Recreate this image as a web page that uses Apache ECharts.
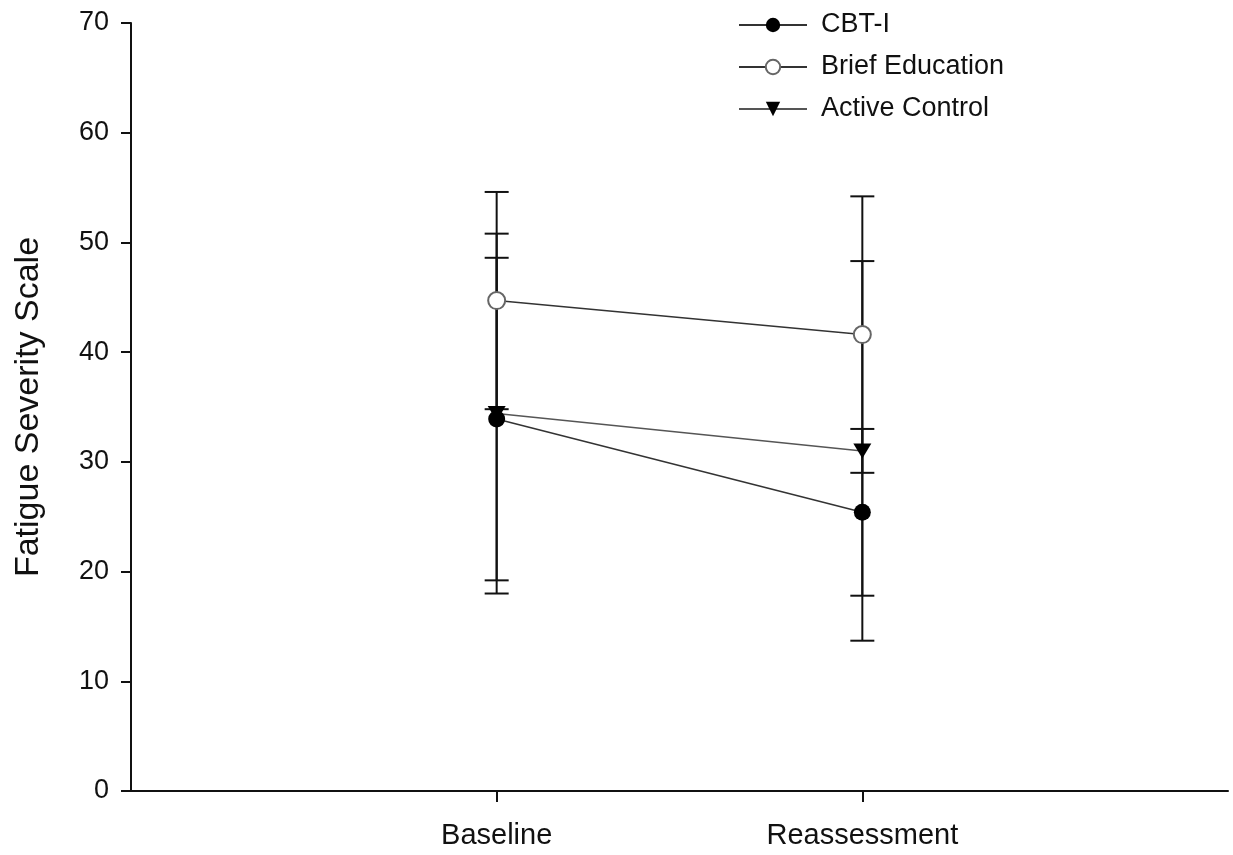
<!DOCTYPE html>
<html>
<head>
<meta charset="utf-8">
<script src="https://cdn.jsdelivr.net/npm/echarts@6/dist/echarts.min.js"></script>
<style>
html,body{margin:0;padding:0;background:#fff;}
#chart{width:1233px;height:855px;}
</style>
</head>
<body>
<div id="chart"></div>
<script>
const categories = ['Baseline', 'Reassessment'];
const seriesNames = ['CBT-I', 'Brief Education', 'Active Control'];
const cbtMean = [33.9, 25.4];
const cbtSD = [14.7, 7.6];
const eduMean = [44.7, 41.6];
const eduSD = [9.9, 12.6];
const acMean = [34.4, 31.0];
const acSD = [16.4, 17.3];
const yTicks = [0, 10, 20, 30, 40, 50, 60, 70];

const FONT = '"Liberation Sans", Arial, sans-serif';
const axisData = [''].concat(categories).concat([' ']);

function pts(mean) { return mean.map((v, i) => [i + 1, v]); }
function bars(mean, sd) { return mean.map((v, i) => [i + 1, v - sd[i], v + sd[i]]); }

function errSeries(mean, sd) {
  return {
    type: 'custom',
    z: 4,
    silent: true,
    encode: { x: 0, y: [1, 2] },
    data: bars(mean, sd),
    renderItem: function (params, api) {
      const x = api.value(0);
      const lo = api.coord([x, api.value(1)]);
      const hi = api.coord([x, api.value(2)]);
      const w = 12;
      const st = { stroke: '#111', lineWidth: 2 };
      return {
        type: 'group',
        children: [
          { type: 'line', shape: { x1: lo[0], y1: lo[1], x2: hi[0], y2: hi[1] }, style: st },
          { type: 'line', shape: { x1: lo[0] - w, y1: lo[1], x2: lo[0] + w, y2: lo[1] }, style: st },
          { type: 'line', shape: { x1: hi[0] - w, y1: hi[1], x2: hi[0] + w, y2: hi[1] }, style: st }
        ]
      };
    }
  };
}

const chart = echarts.init(document.getElementById('chart'), null, { renderer: 'canvas' });
chart.setOption({
  animation: false,
  backgroundColor: '#fff',
  textStyle: { fontFamily: FONT },
  grid: { left: 131, right: 5, top: 23, bottom: 64, containLabel: false, outerBoundsMode: 'none' },
  legend: {
    orient: 'vertical',
    left: 733,
    top: 5,
    itemWidth: 68,
    itemHeight: 18,
    itemGap: 12,
    data: seriesNames,
    textStyle: { fontFamily: FONT, fontSize: 27, color: '#111', lineHeight: 30, padding: [0, 0, 0, 9] }
  },
  xAxis: {
    type: 'category',
    boundaryGap: false,
    data: axisData,
    axisLine: { lineStyle: { color: '#111', width: 2 } },
    axisTick: {
      show: true,
      length: 11,
      interval: function (idx) { return idx === 1 || idx === 2; },
      lineStyle: { color: '#111', width: 2 }
    },
    axisLabel: {
      interval: 0,
      margin: 30,
      fontSize: 29,
      fontFamily: FONT,
      color: '#111'
    },
    splitLine: { show: false }
  },
  yAxis: {
    type: 'value',
    min: yTicks[0],
    max: yTicks[yTicks.length - 1],
    interval: 10,
    name: 'Fatigue Severity Scale',
    nameLocation: 'middle',
    nameGap: 85,
    nameTextStyle: { fontSize: 34, fontFamily: FONT, color: '#111' },
    axisLine: { show: true, lineStyle: { color: '#111', width: 2 } },
    axisTick: { show: true, length: 10, lineStyle: { color: '#111', width: 2 } },
    axisLabel: { margin: 22, fontSize: 27, fontFamily: FONT, color: '#111' },
    splitLine: { show: false }
  },
  series: [
    {
      name: seriesNames[0],
      type: 'line',
      z: 5,
      data: pts(cbtMean),
      symbol: 'circle',
      symbolSize: 17,
      lineStyle: { color: '#333', width: 1.5 },
      itemStyle: { color: '#000' }
    },
    {
      name: seriesNames[1],
      type: 'line',
      z: 5,
      data: pts(eduMean),
      symbol: 'emptyCircle',
      symbolSize: 17,
      lineStyle: { color: '#333', width: 1.5 },
      itemStyle: { color: '#666', borderColor: '#666', borderWidth: 1.5 }
    },
    {
      name: seriesNames[2],
      type: 'line',
      z: 5,
      data: pts(acMean),
      symbol: 'triangle',
      symbolRotate: 180,
      symbolSize: [18, 15],
      lineStyle: { color: '#555', width: 1.5 },
      itemStyle: { color: '#000' }
    },
    errSeries(cbtMean, cbtSD),
    errSeries(eduMean, eduSD),
    errSeries(acMean, acSD)
  ]
});
</script>
</body>
</html>
